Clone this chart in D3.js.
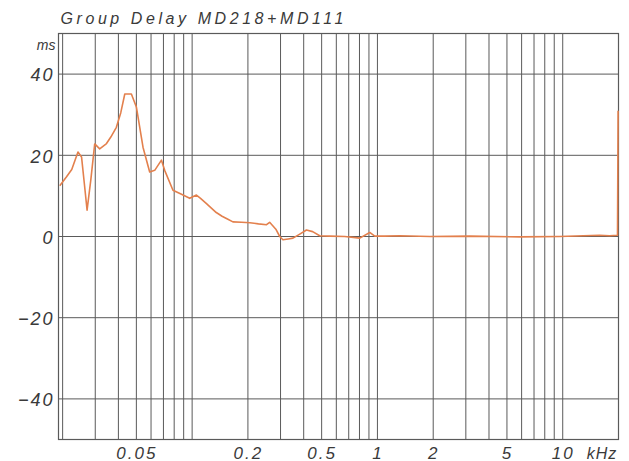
<!DOCTYPE html>
<html>
<head>
<meta charset="utf-8">
<script src="https://cdn.jsdelivr.net/npm/d3@7"></script>
<style>
  html, body { margin: 0; padding: 0; background: #fff; }
  svg { display: block; }
  .lbl { font-family: "Liberation Sans", Arial, sans-serif; font-style: italic; fill: #3a3a3a; }
</style>
</head>
<body>
<svg id="chart" width="629" height="461"></svg>
<script>
// Group delay measurement, frequency in kHz, delay in ms
const freqKHz = [0.0193, 0.021, 0.0224, 0.0242, 0.0253, 0.0262, 0.0271, 0.0284, 0.0298, 0.0317,
  0.0345, 0.0364, 0.039, 0.0412, 0.0433, 0.047, 0.050, 0.0543, 0.059, 0.0628,
  0.0683, 0.0711, 0.0788, 0.0876, 0.097, 0.1055, 0.111, 0.1195, 0.127, 0.135,
  0.145, 0.155, 0.166, 0.185, 0.205, 0.228, 0.252, 0.262, 0.283, 0.297,
  0.309, 0.330, 0.350, 0.381, 0.414, 0.447, 0.488, 0.553, 0.666, 0.803,
  0.909, 0.967, 1.095, 1.32, 1.92, 3.15, 5.86, 9.6, 15.8, 17.9,
  19.75, 19.9];
const delayMs = [12.5, 14.7, 16.5, 20.8, 19.6, 13.0, 6.5, 14.0, 22.8, 21.6,
  22.9, 24.5, 26.9, 30.5, 35.1, 35.1, 31.9, 22.0, 15.9, 16.3,
  18.8, 16.3, 11.4, 10.4, 9.4, 10.2, 9.4, 8.1, 7.0, 5.9,
  5.0, 4.3, 3.6, 3.5, 3.4, 3.1, 2.9, 3.5, 1.8, 0.0,
  -0.8, -0.6, -0.4, 0.6, 1.6, 1.2, 0.2, 0.1, 0.0, -0.4,
  1.0, 0.1, 0.1, 0.2, 0.0, 0.1, -0.1, 0.0, 0.3, 0.2,
  0.3, 31.0];

// Axis ticks and labels
const gridFreqs = [0.02, 0.03, 0.04, 0.05, 0.06, 0.07, 0.08, 0.09,
  0.1, 0.2, 0.3, 0.4, 0.5, 0.6, 0.7, 0.8, 0.9,
  1, 2, 3, 4, 5, 6, 7, 8, 9, 10];
const xTickValues = [0.05, 0.2, 0.5, 1, 2, 5, 10];
const xTickLabels = ["0.05", "0.2", "0.5", "1", "2", "5", "10"];
const yTickValues = [40, 20, 0, -20, -40];
const yTickLabels = ["40", "20", "0", "\u221220", "\u221240"];
const titleText = "Group Delay MD218+MD111";
const yUnit = "ms";
const xUnit = "kHz";

const plot = { left: 58.5, right: 618.5, top: 33.5, bottom: 439.5 };

const x = d3.scaleLog().domain([0.019, 20]).range([plot.left, plot.right]);
const y = d3.scaleLinear().domain([-50, 50]).range([plot.bottom, plot.top]);

const svg = d3.select("#chart");

// grid
const grid = svg.append("g").attr("stroke", "#5a5a5a").attr("stroke-width", 1);
grid.selectAll("line.v").data(gridFreqs).join("line")
  .attr("class", "v")
  .attr("x1", d => x(d)).attr("x2", d => x(d))
  .attr("y1", plot.top).attr("y2", plot.bottom);
grid.selectAll("line.h").data(yTickValues).join("line")
  .attr("class", "h")
  .attr("x1", plot.left).attr("x2", plot.right)
  .attr("y1", d => y(d)).attr("y2", d => y(d));

// frame
svg.append("rect")
  .attr("x", plot.left).attr("y", plot.top)
  .attr("width", plot.right - plot.left).attr("height", plot.bottom - plot.top)
  .attr("fill", "none").attr("stroke", "#5a5a5a").attr("stroke-width", 1.2);

// x axis labels
const xAxis = d3.axisBottom(x)
  .tickValues(xTickValues)
  .tickFormat((d, i) => xTickLabels[i])
  .tickSize(0).tickPadding(0);
const gx = svg.append("g").attr("transform", `translate(0,${plot.bottom})`).call(xAxis);
gx.select(".domain").remove();
gx.selectAll("text").attr("class", "lbl")
  .attr("y", 19).attr("dy", 0)
  .style("font-size", "17px").style("letter-spacing", "2px");

svg.append("text").attr("class", "lbl")
  .attr("x", x(10) + 24).attr("y", plot.bottom + 19)
  .style("font-size", "16px").style("letter-spacing", "1px")
  .text(xUnit);

// y axis labels
const yAxis = d3.axisLeft(y)
  .tickValues(yTickValues)
  .tickFormat((d, i) => yTickLabels[i])
  .tickSize(0).tickPadding(0);
const gy = svg.append("g").attr("transform", `translate(${plot.left - 4},0)`).call(yAxis);
gy.select(".domain").remove();
gy.selectAll("text").attr("class", "lbl")
  .attr("x", 0).attr("dy", "0.38em")
  .style("font-size", "18px").style("letter-spacing", "2px");

svg.append("text").attr("class", "lbl")
  .attr("x", plot.left - 3).attr("y", 50)
  .attr("text-anchor", "end")
  .style("font-size", "14px")
  .text(yUnit);

// title
svg.append("text").attr("class", "lbl")
  .attr("x", plot.left + 2).attr("y", 24)
  .attr("textLength", 283).attr("lengthAdjust", "spacing")
  .style("font-size", "16px")
  .text(titleText);

// curve
const pts = freqKHz.map((f, i) => [f, delayMs[i]]);
const line = d3.line().x(d => x(d[0])).y(d => y(d[1]));
svg.append("path")
  .datum(pts)
  .attr("d", line)
  .attr("fill", "none")
  .attr("stroke", "#e3804d")
  .attr("stroke-width", 1.6)
  .attr("stroke-linejoin", "round");
</script>
</body>
</html>
